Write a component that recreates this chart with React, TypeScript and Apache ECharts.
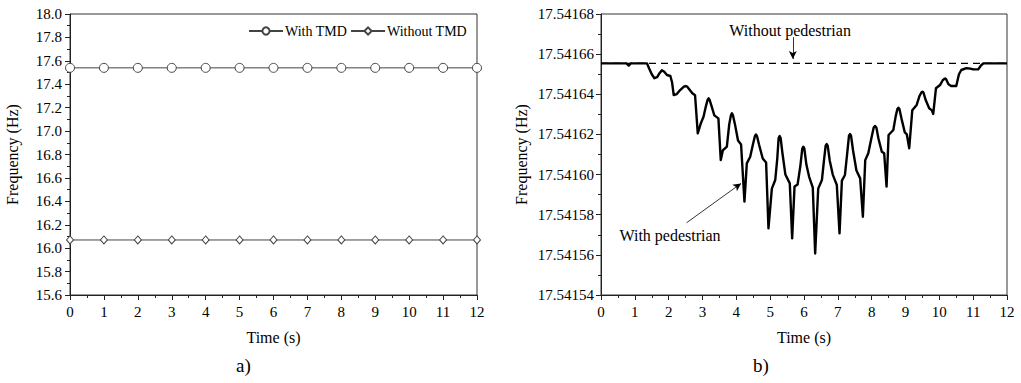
import React, { useEffect, useRef } from "react";
import * as echarts from "echarts";

const FONT = "Liberation Serif";

// Panel a)
const timeA = [0, 1, 2, 3, 4, 5, 6, 7, 8, 9, 10, 11, 12];
const withTMD = [17.54, 17.54, 17.54, 17.54, 17.54, 17.54, 17.54, 17.54, 17.54, 17.54, 17.54, 17.54, 17.54];
const withoutTMD = [16.07, 16.07, 16.07, 16.07, 16.07, 16.07, 16.07, 16.07, 16.07, 16.07, 16.07, 16.07, 16.07];

// Panel b)
const baseTime = [0, 12];
const baseFreq = [17.5416554, 17.5416554];
const pedTime = [
  0, 0.75, 0.82, 0.88, 1.36, 1.42, 1.5, 1.58, 1.66, 1.73, 1.8, 1.87, 1.95, 2.05, 2.1, 2.15, 2.24, 2.34, 2.45, 2.5,
  2.55, 2.7, 2.78, 2.86, 2.95, 3.03, 3.1, 3.15, 3.18, 3.21, 3.27, 3.35, 3.47, 3.54, 3.6, 3.72, 3.79, 3.84, 3.87,
  3.9, 3.96, 4.05, 4.14, 4.24, 4.31, 4.41, 4.49, 4.55, 4.58, 4.61, 4.67, 4.78, 4.88, 4.95, 5.05, 5.15, 5.21, 5.25,
  5.28, 5.31, 5.36, 5.45, 5.58, 5.65, 5.72, 5.81, 5.89, 5.95, 5.98, 6.01, 6.07, 6.15, 6.26, 6.33, 6.42, 6.53,
  6.59, 6.64, 6.67, 6.7, 6.76, 6.85, 6.97, 7.05, 7.12, 7.21, 7.28, 7.33, 7.36, 7.39, 7.45, 7.55, 7.66, 7.74, 7.81,
  7.9, 7.99, 8.06, 8.1, 8.14, 8.2, 8.3, 8.37, 8.44, 8.5, 8.64, 8.71, 8.76, 8.79, 8.82, 8.88, 8.98, 9.04, 9.11, 9.2,
  9.33, 9.41, 9.47, 9.5, 9.53, 9.6, 9.7, 9.78, 9.82, 9.9, 10.02, 10.1, 10.15, 10.17, 10.2, 10.27, 10.35, 10.5,
  10.58, 10.65, 10.8, 10.92, 11.0, 11.15, 11.22, 11.3, 12.0,
];
const pedFreq = [
  17.5416554, 17.5416554, 17.5416543, 17.5416554, 17.5416554, 17.541653, 17.54165, 17.541648, 17.5416485,
  17.5416505, 17.541652, 17.5416512, 17.5416496, 17.5416491, 17.541646, 17.5416396, 17.5416401, 17.5416421,
  17.5416438, 17.5416441, 17.5416438, 17.5416405, 17.5416395, 17.5416205, 17.5416255, 17.5416288, 17.541634,
  17.5416372, 17.541638, 17.5416372, 17.541634, 17.5416295, 17.541628, 17.5416072, 17.541612, 17.5416139,
  17.541625, 17.5416295, 17.5416305, 17.5416295, 17.541625, 17.541617, 17.541615, 17.5415865, 17.5416056,
  17.5416089, 17.541615, 17.5416192, 17.54162, 17.5416192, 17.541615, 17.541608, 17.541606, 17.5415732,
  17.541593, 17.5415973, 17.541608, 17.5416182, 17.5416192, 17.5416182, 17.541611, 17.5416, 17.5415956,
  17.5415682, 17.541594, 17.541595, 17.541604, 17.541613, 17.5416139, 17.541613, 17.541605, 17.541599,
  17.5415935, 17.5415607, 17.541593, 17.5415973, 17.541607, 17.5416144, 17.5416152, 17.5416144, 17.541607,
  17.5416, 17.5415948, 17.5415707, 17.541597, 17.5415998, 17.541611, 17.5416194, 17.5416202, 17.5416194,
  17.541612, 17.541602, 17.5415981, 17.541579, 17.5416072, 17.5416106, 17.541618, 17.5416234, 17.5416242,
  17.5416234, 17.541618, 17.5416114, 17.5416106, 17.541594, 17.5416197, 17.5416222, 17.541629, 17.5416327,
  17.5416333, 17.5416327, 17.541628, 17.541621, 17.54162, 17.5416131, 17.541632, 17.5416347, 17.541639,
  17.5416409, 17.5416413, 17.5416409, 17.541637, 17.541633, 17.541632, 17.5416302, 17.541643, 17.5416446,
  17.541647, 17.5416477, 17.5416479, 17.5416475, 17.541645, 17.5416441, 17.5416441, 17.54165, 17.5416521,
  17.541653, 17.5416528, 17.5416524, 17.5416524, 17.5416541, 17.5416554, 17.5416554,
];

const xTicks = { min: 0, max: 12, interval: 1 };
const yTicksA = { min: 15.6, max: 18.0, interval: 0.2 };
const yTicksB = { min: 17.54154, max: 17.54168, interval: 0.00002 };

function axisCommon() {
  return {
    axisLine: { show: true, onZero: false, lineStyle: { color: "#222", width: 1 } },
    axisTick: { show: true, inside: false, length: 5, lineStyle: { color: "#222" } },
    minorTick: { show: true, splitNumber: 2, length: 3, lineStyle: { color: "#222" } },
    splitLine: { show: false },
    axisLabel: { color: "#000", fontFamily: FONT, fontSize: 15 },
    nameTextStyle: { color: "#000", fontFamily: FONT, fontSize: 16 },
  };
}

export default function App() {
  const ref = useRef<HTMLDivElement>(null);
  useEffect(() => {
    if (!ref.current) return;
    const chart = echarts.init(ref.current, undefined, { renderer: "svg" });
    const zip = (xs: number[], ys: number[]) => xs.map((x, i) => [x, ys[i]]);
    const option: any = {
      animation: false,
      backgroundColor: "#fff",
      textStyle: { fontFamily: FONT },
      grid: [
        { left: 70, top: 14, width: 407, height: 281, show: true, borderColor: "#333", borderWidth: 1 },
        { left: 601, top: 14, width: 406, height: 281, show: true, borderColor: "#333", borderWidth: 1 },
      ],
      legend: {
        left: 243,
        top: 19,
        itemGap: 3,
        itemWidth: 34,
        itemHeight: 9,
        textStyle: { fontFamily: FONT, fontSize: 14, color: "#000", padding: [0, 0, 0, -3] },
        data: ["With TMD", "Without TMD"],
      },
      xAxis: [
        {
          type: "value", gridIndex: 0, ...xTicks, ...axisCommon(),
          name: "Time (s)", nameLocation: "middle", nameGap: 34,
          axisLabel: { ...axisCommon().axisLabel, margin: 9 },
        },
        {
          type: "value", gridIndex: 1, ...xTicks, ...axisCommon(),
          name: "Time (s)", nameLocation: "middle", nameGap: 34,
          axisLabel: { ...axisCommon().axisLabel, margin: 9 },
        },
      ],
      yAxis: [
        {
          type: "value", gridIndex: 0, ...yTicksA, ...axisCommon(),
          name: "Frequency (Hz)", nameLocation: "middle", nameGap: 50,
          axisLabel: { ...axisCommon().axisLabel, margin: 8, formatter: (v: number) => v.toFixed(1) },
        },
        {
          type: "value", gridIndex: 1, ...yTicksB, ...axisCommon(),
          name: "Frequency (Hz)", nameLocation: "middle", nameGap: 72,
          axisLabel: { ...axisCommon().axisLabel, margin: 7, formatter: (v: number) => v.toFixed(5) },
        },
      ],
      series: [
        {
          name: "With TMD", type: "line", xAxisIndex: 0, yAxisIndex: 0,
          data: zip(timeA, withTMD),
          symbol: "circle", symbolSize: 9, showAllSymbol: true,
          lineStyle: { color: "#444", width: 1 },
          itemStyle: { color: "#fff", borderColor: "#444", borderWidth: 1 },
        },
        {
          name: "Without TMD", type: "line", xAxisIndex: 0, yAxisIndex: 0,
          data: zip(timeA, withoutTMD),
          symbol: "diamond", symbolSize: [7, 8], showAllSymbol: true,
          lineStyle: { color: "#444", width: 1 },
          itemStyle: { color: "#fff", borderColor: "#444", borderWidth: 1 },
        },
        {
          name: "Without pedestrian", type: "line", xAxisIndex: 1, yAxisIndex: 1,
          data: zip(baseTime, baseFreq), symbol: "none",
          lineStyle: { color: "#000", width: 1.3, type: [7, 5] },
          markLine: {
            silent: true,
            symbol: ["none", "arrow"],
            symbolSize: [6, 8],
            label: { show: false },
            lineStyle: { color: "#000", width: 0.8, type: "solid" },
            data: [
              [{ coord: [5.67, 17.5416685] }, { coord: [5.67, 17.5416576] }],
              [{ coord: [2.53, 17.541576] }, { coord: [4.14, 17.5415956] }],
            ],
          },
          markPoint: {
            silent: true,
            symbol: "circle",
            symbolSize: 0,
            label: { show: true, position: "inside", color: "#000", fontFamily: FONT, fontSize: 16 },
            data: [
              { coord: [5.59, 17.541672], label: { formatter: "Without pedestrian" } },
              { coord: [2.04, 17.5415694], label: { formatter: "With pedestrian" } },
            ],
          },
        },
        {
          name: "With pedestrian", type: "line", xAxisIndex: 1, yAxisIndex: 1,
          data: zip(pedTime, pedFreq), symbol: "none",
          lineStyle: { color: "#000", width: 2.4, join: "round" },
        },
      ],
      graphic: [
        { type: "text", left: 236, top: 356, style: { text: "a)", font: `19px ${FONT}`, fill: "#000" } },
        { type: "text", left: 753, top: 356, style: { text: "b)", font: `19px ${FONT}`, fill: "#000" } },
      ],
    };
    chart.setOption(option);
    return () => chart.dispose();
  }, []);
  return (
    <div
      ref={ref}
      style={{ position: "fixed", left: 0, top: 0, width: 1021, height: 383, background: "#fff" }}
    />
  );
}
